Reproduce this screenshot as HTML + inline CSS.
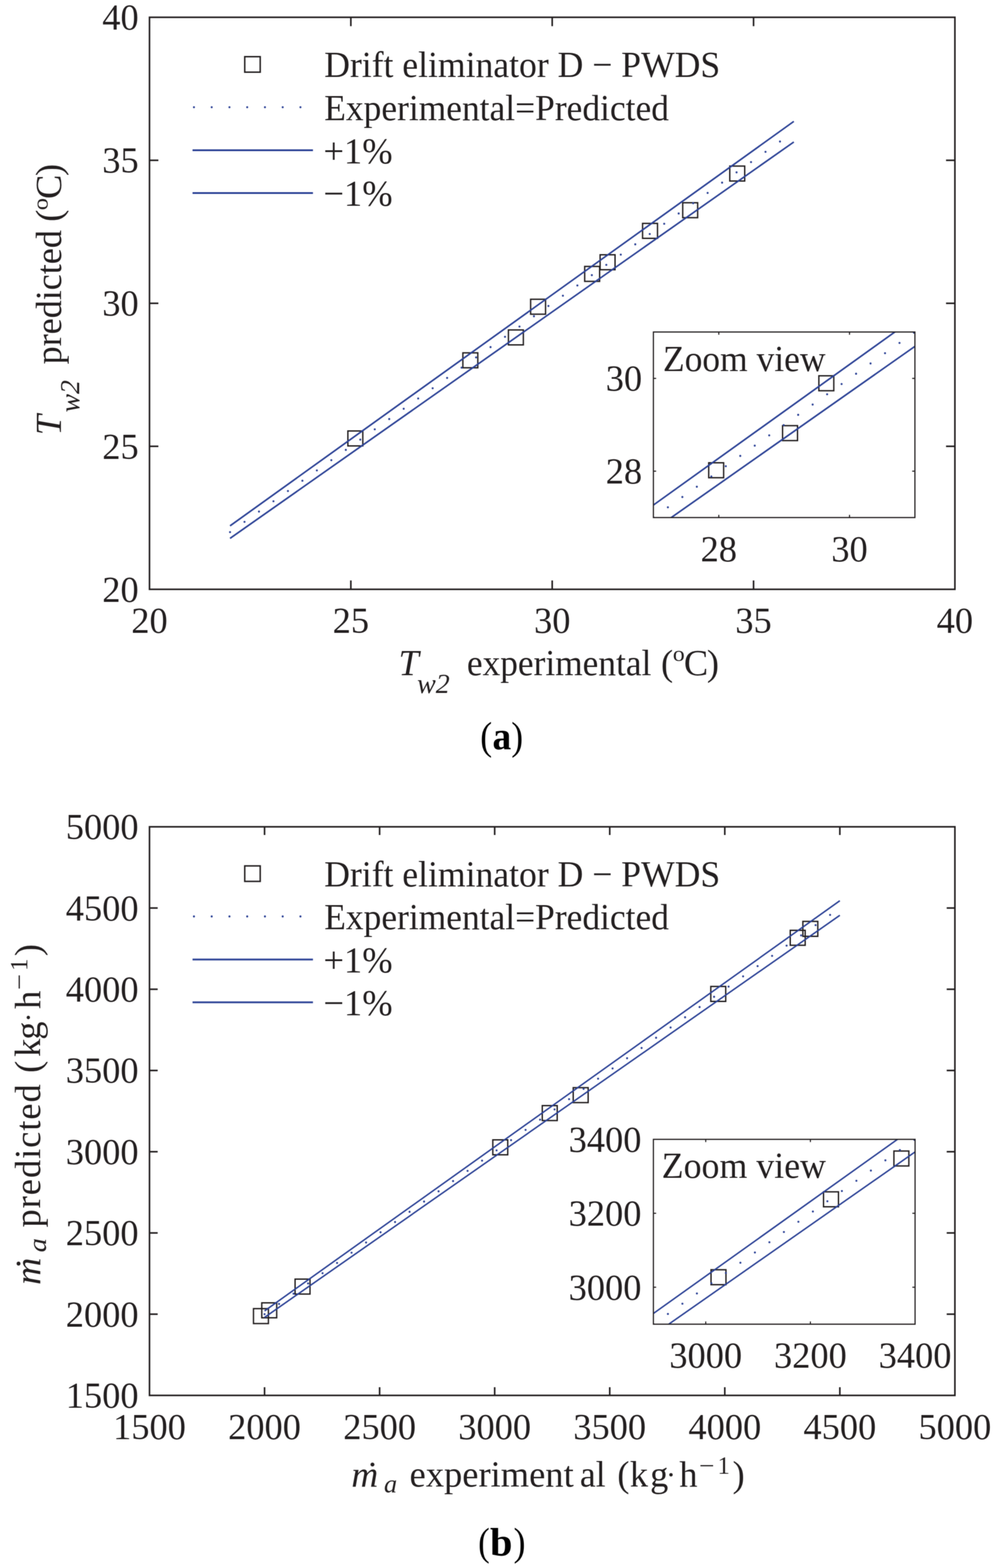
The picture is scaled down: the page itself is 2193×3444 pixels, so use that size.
<!DOCTYPE html>
<html><head><meta charset="utf-8"><title>Figure</title><style>html,body{margin:0;padding:0;background:#fff}svg{display:block}</style></head><body>
<svg width="2193" height="3444" viewBox="0 0 2193 3444" font-family="'Liberation Serif', 'Times New Roman', serif">
<defs><filter id="soft" color-interpolation-filters="sRGB" x="0" y="0" width="2193" height="3444" filterUnits="userSpaceOnUse"><feConvolveMatrix order="3" kernelMatrix="1 2 1 2 4 2 1 2 1" divisor="16" edgeMode="duplicate"/></filter></defs>
<rect width="100%" height="100%" fill="#fff"/>
<g filter="url(#soft)">
<rect x="764.4" y="946.6" width="32.8" height="32.8" fill="none" stroke="#231f20" stroke-width="3"/>
<rect x="1017.1" y="775" width="32.8" height="32.8" fill="none" stroke="#231f20" stroke-width="3"/>
<rect x="1117.2" y="724.7" width="32.8" height="32.8" fill="none" stroke="#231f20" stroke-width="3"/>
<rect x="1166" y="657.3" width="32.8" height="32.8" fill="none" stroke="#231f20" stroke-width="3"/>
<rect x="1284.8" y="585.2" width="32.8" height="32.8" fill="none" stroke="#231f20" stroke-width="3"/>
<rect x="1318.7" y="559.6" width="32.8" height="32.8" fill="none" stroke="#231f20" stroke-width="3"/>
<rect x="1412" y="490.7" width="32.8" height="32.8" fill="none" stroke="#231f20" stroke-width="3"/>
<rect x="1500.2" y="445.3" width="32.8" height="32.8" fill="none" stroke="#231f20" stroke-width="3"/>
<rect x="1603.6" y="364.8" width="32.8" height="32.8" fill="none" stroke="#231f20" stroke-width="3"/>
<line x1="505.48" y1="1154.94" x2="1744.34" y2="266.66" stroke="#2e4497" stroke-width="3.6"/>
<line x1="505.48" y1="1182.58" x2="1744.34" y2="311.9" stroke="#2e4497" stroke-width="3.6"/>
<line x1="505.48" y1="1168.76" x2="1744.34" y2="289.28" stroke="#2e4497" stroke-width="4.6" stroke-dasharray="0 39" stroke-linecap="round"/>
<rect x="328.5" y="38" width="1769.8" height="1256.4" fill="none" stroke="#231f20" stroke-width="3.5"/>
<line x1="770.95" y1="1294.4" x2="770.95" y2="1274.9" stroke="#231f20" stroke-width="3.5"/>
<line x1="770.95" y1="38" x2="770.95" y2="57.5" stroke="#231f20" stroke-width="3.5"/>
<line x1="1213.4" y1="1294.4" x2="1213.4" y2="1274.9" stroke="#231f20" stroke-width="3.5"/>
<line x1="1213.4" y1="38" x2="1213.4" y2="57.5" stroke="#231f20" stroke-width="3.5"/>
<line x1="1655.85" y1="1294.4" x2="1655.85" y2="1274.9" stroke="#231f20" stroke-width="3.5"/>
<line x1="1655.85" y1="38" x2="1655.85" y2="57.5" stroke="#231f20" stroke-width="3.5"/>
<line x1="328.5" y1="980.3" x2="348" y2="980.3" stroke="#231f20" stroke-width="3.5"/>
<line x1="2098.3" y1="980.3" x2="2078.8" y2="980.3" stroke="#231f20" stroke-width="3.5"/>
<line x1="328.5" y1="666.2" x2="348" y2="666.2" stroke="#231f20" stroke-width="3.5"/>
<line x1="2098.3" y1="666.2" x2="2078.8" y2="666.2" stroke="#231f20" stroke-width="3.5"/>
<line x1="328.5" y1="352.1" x2="348" y2="352.1" stroke="#231f20" stroke-width="3.5"/>
<line x1="2098.3" y1="352.1" x2="2078.8" y2="352.1" stroke="#231f20" stroke-width="3.5"/>
<text x="328.5" y="1390.3" text-anchor="middle" font-size="80" fill="#231f20">20</text>
<text x="770.95" y="1390.3" text-anchor="middle" font-size="80" fill="#231f20">25</text>
<text x="1213.4" y="1390.3" text-anchor="middle" font-size="80" fill="#231f20">30</text>
<text x="1655.85" y="1390.3" text-anchor="middle" font-size="80" fill="#231f20">35</text>
<text x="2098.3" y="1390.3" text-anchor="middle" font-size="80" fill="#231f20">40</text>
<text x="304.8" y="1321.6" text-anchor="end" font-size="80" fill="#231f20">20</text>
<text x="304.8" y="1007.5" text-anchor="end" font-size="80" fill="#231f20">25</text>
<text x="304.8" y="693.4" text-anchor="end" font-size="80" fill="#231f20">30</text>
<text x="304.8" y="379.3" text-anchor="end" font-size="80" fill="#231f20">35</text>
<text x="304.8" y="65.2" text-anchor="end" font-size="80" fill="#231f20">40</text>
<rect x="537.8" y="124.5" width="34" height="34" fill="none" stroke="#231f20" stroke-width="3.2"/>
<line x1="426.2" y1="235.5" x2="688" y2="235.5" stroke="#2e4497" stroke-width="4.6" stroke-dasharray="0 39" stroke-linecap="round"/>
<line x1="423.1" y1="330" x2="687.7" y2="330" stroke="#2e4497" stroke-width="4"/>
<line x1="423.1" y1="424" x2="687.7" y2="424" stroke="#2e4497" stroke-width="4"/>
<text x="712.43" y="169.1" font-size="80" fill="#231f20" textLength="870.14" lengthAdjust="spacingAndGlyphs">Drift eliminator D − PWDS</text>
<text x="712.44" y="263.7" font-size="80" fill="#231f20" textLength="757.5" lengthAdjust="spacingAndGlyphs">Experimental=Predicted</text>
<text x="710.7" y="358.9" font-size="80" fill="#231f20" textLength="151.93" lengthAdjust="spacingAndGlyphs">+1%</text>
<text x="710.7" y="452.4" font-size="80" fill="#231f20" textLength="151.93" lengthAdjust="spacingAndGlyphs">−1%</text>
<clipPath id="ca"><rect x="1435.8" y="729.2" width="574.6" height="407.6"/></clipPath>
<rect x="1435.8" y="729.2" width="574.6" height="407.6" fill="#fff"/>
<g clip-path="url(#ca)">
<rect x="1557.3" y="1016.46" width="32.8" height="32.8" fill="none" stroke="#231f20" stroke-width="3"/>
<rect x="1719.63" y="934.94" width="32.8" height="32.8" fill="none" stroke="#231f20" stroke-width="3"/>
<rect x="1799.35" y="825.4" width="32.8" height="32.8" fill="none" stroke="#231f20" stroke-width="3"/>
<line x1="1378.34" y1="1150.45" x2="2067.86" y2="656.44" stroke="#2e4497" stroke-width="3.6"/>
<line x1="1378.34" y1="1204.67" x2="2067.86" y2="720.44" stroke="#2e4497" stroke-width="3.6"/>
<line x1="1435.8" y1="1136.8" x2="2067.86" y2="688.44" stroke="#2e4497" stroke-width="4.6" stroke-dasharray="0 39" stroke-linecap="round"/>
</g>
<rect x="1435.8" y="729.2" width="574.6" height="407.6" fill="none" stroke="#231f20" stroke-width="2.6"/>
<line x1="1579.45" y1="1136.8" x2="1579.45" y2="1130.8" stroke="#231f20" stroke-width="2.4"/>
<line x1="1579.45" y1="729.2" x2="1579.45" y2="735.2" stroke="#231f20" stroke-width="2.4"/>
<line x1="1435.8" y1="1034.9" x2="1441.8" y2="1034.9" stroke="#231f20" stroke-width="2.4"/>
<line x1="2010.4" y1="1034.9" x2="2004.4" y2="1034.9" stroke="#231f20" stroke-width="2.4"/>
<line x1="1866.75" y1="1136.8" x2="1866.75" y2="1130.8" stroke="#231f20" stroke-width="2.4"/>
<line x1="1866.75" y1="729.2" x2="1866.75" y2="735.2" stroke="#231f20" stroke-width="2.4"/>
<line x1="1435.8" y1="831.1" x2="1441.8" y2="831.1" stroke="#231f20" stroke-width="2.4"/>
<line x1="2010.4" y1="831.1" x2="2004.4" y2="831.1" stroke="#231f20" stroke-width="2.4"/>
<text x="1579.45" y="1232.5" text-anchor="middle" font-size="80" fill="#231f20">28</text>
<text x="1866.75" y="1232.5" text-anchor="middle" font-size="80" fill="#231f20">30</text>
<text x="1411" y="1062.1" text-anchor="end" font-size="80" fill="#231f20">28</text>
<text x="1411" y="858.3" text-anchor="end" font-size="80" fill="#231f20">30</text>
<text x="1456.76" y="815.2" font-size="80" fill="#231f20" textLength="357.29" lengthAdjust="spacingAndGlyphs">Zoom view</text>
<rect x="557" y="2874.3" width="32.8" height="32.8" fill="none" stroke="#231f20" stroke-width="3"/>
<rect x="575.2" y="2861.6" width="32.8" height="32.8" fill="none" stroke="#231f20" stroke-width="3"/>
<rect x="648.4" y="2809.5" width="32.8" height="32.8" fill="none" stroke="#231f20" stroke-width="3"/>
<rect x="1082.9" y="2503.6" width="32.8" height="32.8" fill="none" stroke="#231f20" stroke-width="3"/>
<rect x="1191.6" y="2428.4" width="32.8" height="32.8" fill="none" stroke="#231f20" stroke-width="3"/>
<rect x="1259.6" y="2389" width="32.8" height="32.8" fill="none" stroke="#231f20" stroke-width="3"/>
<rect x="1561.9" y="2166.7" width="32.8" height="32.8" fill="none" stroke="#231f20" stroke-width="3"/>
<rect x="1736.5" y="2043.4" width="32.8" height="32.8" fill="none" stroke="#231f20" stroke-width="3"/>
<rect x="1764.2" y="2023.8" width="32.8" height="32.8" fill="none" stroke="#231f20" stroke-width="3"/>
<line x1="581.33" y1="2879.35" x2="1845.47" y2="1978.36" stroke="#2e4497" stroke-width="3.3"/>
<line x1="581.33" y1="2893.62" x2="1845.47" y2="2010.47" stroke="#2e4497" stroke-width="3.3"/>
<line x1="581.33" y1="2886.49" x2="1845.47" y2="1994.41" stroke="#2e4497" stroke-width="4.6" stroke-dasharray="0 39" stroke-linecap="round"/>
<rect x="328.5" y="1816" width="1769.8" height="1248.9" fill="none" stroke="#231f20" stroke-width="3.5"/>
<line x1="581.33" y1="3064.9" x2="581.33" y2="3046.9" stroke="#231f20" stroke-width="3.5"/>
<line x1="581.33" y1="1816" x2="581.33" y2="1834" stroke="#231f20" stroke-width="3.5"/>
<line x1="834.16" y1="3064.9" x2="834.16" y2="3046.9" stroke="#231f20" stroke-width="3.5"/>
<line x1="834.16" y1="1816" x2="834.16" y2="1834" stroke="#231f20" stroke-width="3.5"/>
<line x1="1086.99" y1="3064.9" x2="1086.99" y2="3046.9" stroke="#231f20" stroke-width="3.5"/>
<line x1="1086.99" y1="1816" x2="1086.99" y2="1834" stroke="#231f20" stroke-width="3.5"/>
<line x1="1339.81" y1="3064.9" x2="1339.81" y2="3046.9" stroke="#231f20" stroke-width="3.5"/>
<line x1="1339.81" y1="1816" x2="1339.81" y2="1834" stroke="#231f20" stroke-width="3.5"/>
<line x1="1592.64" y1="3064.9" x2="1592.64" y2="3046.9" stroke="#231f20" stroke-width="3.5"/>
<line x1="1592.64" y1="1816" x2="1592.64" y2="1834" stroke="#231f20" stroke-width="3.5"/>
<line x1="1845.47" y1="3064.9" x2="1845.47" y2="3046.9" stroke="#231f20" stroke-width="3.5"/>
<line x1="1845.47" y1="1816" x2="1845.47" y2="1834" stroke="#231f20" stroke-width="3.5"/>
<line x1="328.5" y1="2886.49" x2="346.5" y2="2886.49" stroke="#231f20" stroke-width="3.5"/>
<line x1="2098.3" y1="2886.49" x2="2080.3" y2="2886.49" stroke="#231f20" stroke-width="3.5"/>
<line x1="328.5" y1="2708.07" x2="346.5" y2="2708.07" stroke="#231f20" stroke-width="3.5"/>
<line x1="2098.3" y1="2708.07" x2="2080.3" y2="2708.07" stroke="#231f20" stroke-width="3.5"/>
<line x1="328.5" y1="2529.66" x2="346.5" y2="2529.66" stroke="#231f20" stroke-width="3.5"/>
<line x1="2098.3" y1="2529.66" x2="2080.3" y2="2529.66" stroke="#231f20" stroke-width="3.5"/>
<line x1="328.5" y1="2351.24" x2="346.5" y2="2351.24" stroke="#231f20" stroke-width="3.5"/>
<line x1="2098.3" y1="2351.24" x2="2080.3" y2="2351.24" stroke="#231f20" stroke-width="3.5"/>
<line x1="328.5" y1="2172.83" x2="346.5" y2="2172.83" stroke="#231f20" stroke-width="3.5"/>
<line x1="2098.3" y1="2172.83" x2="2080.3" y2="2172.83" stroke="#231f20" stroke-width="3.5"/>
<line x1="328.5" y1="1994.41" x2="346.5" y2="1994.41" stroke="#231f20" stroke-width="3.5"/>
<line x1="2098.3" y1="1994.41" x2="2080.3" y2="1994.41" stroke="#231f20" stroke-width="3.5"/>
<text x="328.5" y="3160.6" text-anchor="middle" font-size="80" fill="#231f20">1500</text>
<text x="581.33" y="3160.6" text-anchor="middle" font-size="80" fill="#231f20">2000</text>
<text x="834.16" y="3160.6" text-anchor="middle" font-size="80" fill="#231f20">2500</text>
<text x="1086.99" y="3160.6" text-anchor="middle" font-size="80" fill="#231f20">3000</text>
<text x="1339.81" y="3160.6" text-anchor="middle" font-size="80" fill="#231f20">3500</text>
<text x="1592.64" y="3160.6" text-anchor="middle" font-size="80" fill="#231f20">4000</text>
<text x="1845.47" y="3160.6" text-anchor="middle" font-size="80" fill="#231f20">4500</text>
<text x="2098.3" y="3160.6" text-anchor="middle" font-size="80" fill="#231f20">5000</text>
<text x="304.5" y="3092.1" text-anchor="end" font-size="80" fill="#231f20">1500</text>
<text x="304.5" y="2913.69" text-anchor="end" font-size="80" fill="#231f20">2000</text>
<text x="304.5" y="2735.27" text-anchor="end" font-size="80" fill="#231f20">2500</text>
<text x="304.5" y="2556.86" text-anchor="end" font-size="80" fill="#231f20">3000</text>
<text x="304.5" y="2378.44" text-anchor="end" font-size="80" fill="#231f20">3500</text>
<text x="304.5" y="2200.03" text-anchor="end" font-size="80" fill="#231f20">4000</text>
<text x="304.5" y="2021.61" text-anchor="end" font-size="80" fill="#231f20">4500</text>
<text x="304.5" y="1843.2" text-anchor="end" font-size="80" fill="#231f20">5000</text>
<rect x="537.8" y="1901.9" width="34" height="34" fill="none" stroke="#231f20" stroke-width="3.2"/>
<line x1="426.2" y1="2012.9" x2="688" y2="2012.9" stroke="#2e4497" stroke-width="4.6" stroke-dasharray="0 39" stroke-linecap="round"/>
<line x1="423.1" y1="2107.4" x2="687.7" y2="2107.4" stroke="#2e4497" stroke-width="4"/>
<line x1="423.1" y1="2201.4" x2="687.7" y2="2201.4" stroke="#2e4497" stroke-width="4"/>
<text x="712.43" y="1946.5" font-size="80" fill="#231f20" textLength="870.14" lengthAdjust="spacingAndGlyphs">Drift eliminator D − PWDS</text>
<text x="712.44" y="2041.1" font-size="80" fill="#231f20" textLength="757.5" lengthAdjust="spacingAndGlyphs">Experimental=Predicted</text>
<text x="710.7" y="2136.3" font-size="80" fill="#231f20" textLength="151.93" lengthAdjust="spacingAndGlyphs">+1%</text>
<text x="710.7" y="2229.8" font-size="80" fill="#231f20" textLength="151.93" lengthAdjust="spacingAndGlyphs">−1%</text>
<clipPath id="cb"><rect x="1435.8" y="2502.5" width="575" height="406"/></clipPath>
<rect x="1435.8" y="2502.5" width="575" height="406" fill="#fff"/>
<g clip-path="url(#cb)">
<rect x="1562.41" y="2788.92" width="32.8" height="32.8" fill="none" stroke="#231f20" stroke-width="3"/>
<rect x="1809.62" y="2617.8" width="32.8" height="32.8" fill="none" stroke="#231f20" stroke-width="3"/>
<rect x="1964.27" y="2528.14" width="32.8" height="32.8" fill="none" stroke="#231f20" stroke-width="3"/>
<line x1="1378.3" y1="2925.96" x2="2068.3" y2="2433.89" stroke="#2e4497" stroke-width="3.3"/>
<line x1="1378.3" y1="2972.24" x2="2068.3" y2="2489.91" stroke="#2e4497" stroke-width="3.3"/>
<line x1="1435.8" y1="2908.5" x2="2068.3" y2="2461.9" stroke="#2e4497" stroke-width="4.6" stroke-dasharray="0 39" stroke-linecap="round"/>
</g>
<rect x="1435.8" y="2502.5" width="575" height="406" fill="none" stroke="#231f20" stroke-width="2.6"/>
<line x1="1550.8" y1="2908.5" x2="1550.8" y2="2902.5" stroke="#231f20" stroke-width="2.4"/>
<line x1="1550.8" y1="2502.5" x2="1550.8" y2="2508.5" stroke="#231f20" stroke-width="2.4"/>
<line x1="1435.8" y1="2827.3" x2="1441.8" y2="2827.3" stroke="#231f20" stroke-width="2.4"/>
<line x1="2010.8" y1="2827.3" x2="2004.8" y2="2827.3" stroke="#231f20" stroke-width="2.4"/>
<line x1="1780.8" y1="2908.5" x2="1780.8" y2="2902.5" stroke="#231f20" stroke-width="2.4"/>
<line x1="1780.8" y1="2502.5" x2="1780.8" y2="2508.5" stroke="#231f20" stroke-width="2.4"/>
<line x1="1435.8" y1="2664.9" x2="1441.8" y2="2664.9" stroke="#231f20" stroke-width="2.4"/>
<line x1="2010.8" y1="2664.9" x2="2004.8" y2="2664.9" stroke="#231f20" stroke-width="2.4"/>
<text x="1550.8" y="3003.5" text-anchor="middle" font-size="80" fill="#231f20">3000</text>
<text x="1780.8" y="3003.5" text-anchor="middle" font-size="80" fill="#231f20">3200</text>
<text x="2010.8" y="3003.5" text-anchor="middle" font-size="80" fill="#231f20">3400</text>
<text x="1409.5" y="2854.5" text-anchor="end" font-size="80" fill="#231f20">3000</text>
<text x="1409.5" y="2692.1" text-anchor="end" font-size="80" fill="#231f20">3200</text>
<text x="1409.5" y="2529.7" text-anchor="end" font-size="80" fill="#231f20">3400</text>
<text x="1454.12" y="2587.3" font-size="80" fill="#231f20" textLength="360.84" lengthAdjust="spacingAndGlyphs">Zoom view</text>
<text x="875.82" y="1482.8" font-size="80" font-style="italic" fill="#231f20">T</text>
<text x="916.42" y="1521.5" font-size="62" font-style="italic" fill="#231f20" textLength="71.73" lengthAdjust="spacingAndGlyphs">w2</text>
<text x="1025.97" y="1482.8" font-size="80" fill="#231f20" textLength="405.26" lengthAdjust="spacingAndGlyphs">experimental</text>
<text x="1452.48" y="1482.8" font-size="80" fill="#231f20">(</text>
<text x="1478.52" y="1452.2" font-size="48" fill="#231f20" textLength="26.06" lengthAdjust="spacingAndGlyphs">o</text>
<text x="1502.72" y="1482.8" font-size="80" fill="#231f20">C</text>
<text x="1553.34" y="1482.8" font-size="80" fill="#231f20">)</text>
<text x="-956.08" y="134.2" font-size="80" font-style="italic" transform="rotate(-90)" fill="#231f20">T</text>
<text x="-905.66" y="173.7" font-size="62" font-style="italic" transform="rotate(-90)" fill="#231f20" textLength="70.79" lengthAdjust="spacingAndGlyphs">w2</text>
<text x="-800.17" y="134.2" font-size="80" transform="rotate(-90)" fill="#231f20" textLength="294.73" lengthAdjust="spacingAndGlyphs">predicted</text>
<text x="-487.02" y="134.2" font-size="80" transform="rotate(-90)" fill="#231f20">(</text>
<text x="-461.74" y="105" font-size="48" transform="rotate(-90)" fill="#231f20" textLength="26.89" lengthAdjust="spacingAndGlyphs">o</text>
<text x="-436.98" y="134.2" font-size="80" transform="rotate(-90)" fill="#231f20">C</text>
<text x="-386.46" y="134.2" font-size="80" transform="rotate(-90)" fill="#231f20">)</text>
<text x="772.05" y="3265.1" font-size="80" font-style="italic" fill="#231f20" textLength="59.21" lengthAdjust="spacingAndGlyphs">m</text>
<text x="804.45" y="3265.9" font-size="80" fill="#231f20" textLength="27.65" lengthAdjust="spacingAndGlyphs">˙</text>
<text x="843.66" y="3278.3" font-size="56" font-style="italic" fill="#231f20" textLength="28.94" lengthAdjust="spacingAndGlyphs">a</text>
<text x="900.07" y="3265.1" font-size="80" fill="#231f20" textLength="360.61" lengthAdjust="spacingAndGlyphs">experiment</text>
<text x="1274.16" y="3265.1" font-size="80" fill="#231f20" textLength="56.59" lengthAdjust="spacingAndGlyphs">al</text>
<text x="1356.48" y="3265.1" font-size="80" fill="#231f20">(</text>
<text x="1383.98" y="3265.1" font-size="80" fill="#231f20">k</text>
<text x="1428.46" y="3265.1" font-size="80" fill="#231f20">g</text>
<text x="1463.65" y="3259.8" font-size="64" fill="#231f20">·</text>
<text x="1492.7" y="3265.1" font-size="80" fill="#231f20">h</text>
<text x="1536" y="3237.2" font-size="54" fill="#231f20" textLength="33.84" lengthAdjust="spacingAndGlyphs">−</text>
<text x="1576.85" y="3237.2" font-size="54" fill="#231f20">1</text>
<text x="1609.84" y="3265.1" font-size="80" fill="#231f20">)</text>
<text x="-2822.19" y="87.8" font-size="80" font-style="italic" transform="rotate(-90)" fill="#231f20" textLength="59.99" lengthAdjust="spacingAndGlyphs">m</text>
<text x="-2788.93" y="89.7" font-size="80" transform="rotate(-90)" fill="#231f20" textLength="27.02" lengthAdjust="spacingAndGlyphs">˙</text>
<text x="-2750.89" y="101.2" font-size="56" font-style="italic" transform="rotate(-90)" fill="#231f20" textLength="31.48" lengthAdjust="spacingAndGlyphs">a</text>
<text x="-2695.98" y="87.8" font-size="80" transform="rotate(-90)" fill="#231f20" textLength="314.36" lengthAdjust="spacing">predicted</text>
<text x="-2356.52" y="87.8" font-size="80" transform="rotate(-90)" fill="#231f20">(</text>
<text x="-2321.32" y="87.8" font-size="80" transform="rotate(-90)" fill="#231f20">k</text>
<text x="-2283.74" y="87.8" font-size="80" transform="rotate(-90)" fill="#231f20">g</text>
<text x="-2245.45" y="82.5" font-size="64" transform="rotate(-90)" fill="#231f20">·</text>
<text x="-2216.1" y="87.8" font-size="80" transform="rotate(-90)" fill="#231f20">h</text>
<text x="-2174.61" y="60.3" font-size="54" transform="rotate(-90)" fill="#231f20" textLength="35.05" lengthAdjust="spacingAndGlyphs">−</text>
<text x="-2132.55" y="60.3" font-size="54" transform="rotate(-90)" fill="#231f20">1</text>
<text x="-2099.96" y="87.8" font-size="80" transform="rotate(-90)" fill="#231f20">)</text>
<text x="1055.24" y="1645.5" font-size="86" fill="#000" textLength="26.17" lengthAdjust="spacingAndGlyphs">(</text>
<text x="1082.17" y="1645.5" font-size="86" font-weight="bold" fill="#000" textLength="41.06" lengthAdjust="spacingAndGlyphs">a</text>
<text x="1123.41" y="1645.5" font-size="86" fill="#000" textLength="25.92" lengthAdjust="spacingAndGlyphs">)</text>
<text x="1050.74" y="3415.5" font-size="86" fill="#000" textLength="25.4" lengthAdjust="spacingAndGlyphs">(</text>
<text x="1076.85" y="3415.5" font-size="86" font-weight="bold" fill="#000" textLength="49.31" lengthAdjust="spacingAndGlyphs">b</text>
<text x="1128.58" y="3415.5" font-size="86" fill="#000" textLength="26.17" lengthAdjust="spacingAndGlyphs">)</text>
</g>
</svg></body></html>
